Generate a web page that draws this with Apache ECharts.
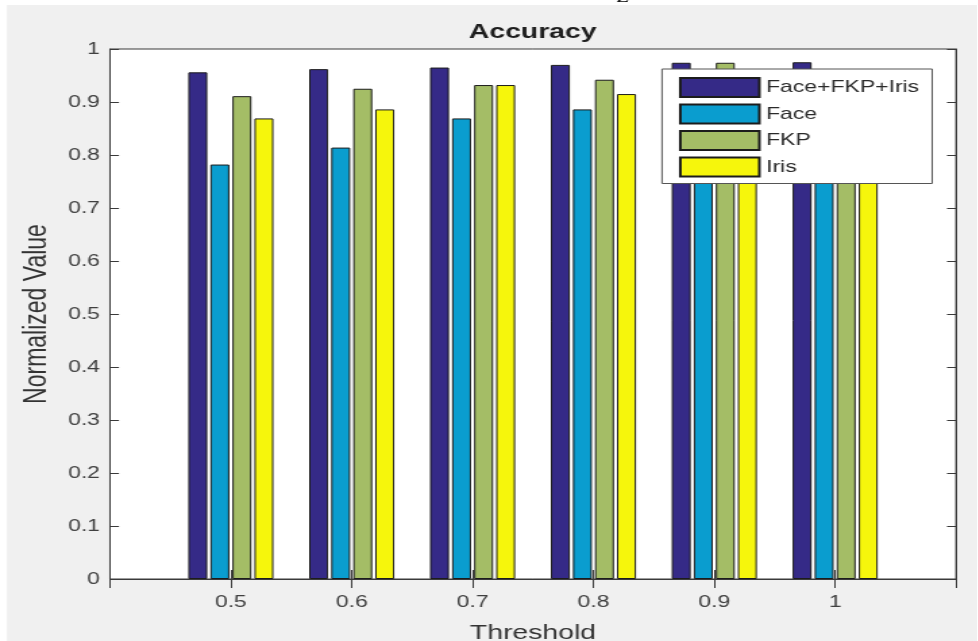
<!DOCTYPE html>
<html>
<head>
<meta charset="utf-8">
<script src="https://cdn.jsdelivr.net/npm/echarts@6/dist/echarts.min.js"></script>
<style>
  html, body { margin: 0; padding: 0; background: #ffffff; overflow: hidden; }
  #wrap { position: absolute; left: 0; top: 0; width: 978px; height: 641px; overflow: hidden; }
  #chart { position: absolute; left: 0; top: 0; height: 641px; transform-origin: 0 0; }
</style>
</head>
<body>
<div id="wrap"><div id="chart"></div></div>
<script>
// ---- data ----
const thresholds = ['0.5', '0.6', '0.7', '0.8', '0.9', '1'];
const seriesNames = ['Face+FKP+Iris', 'Face', 'FKP', 'Iris'];
const fusionValues = [0.956, 0.962, 0.965, 0.970, 0.974, 0.975];
const faceValues   = [0.782, 0.814, 0.869, 0.886, 0.905, 0.915];
const fkpValues    = [0.911, 0.925, 0.932, 0.942, 0.974, 0.950];
const irisValues   = [0.869, 0.886, 0.932, 0.915, 0.930, 0.940];
const yTicks = [0, 0.1, 0.2, 0.3, 0.4, 0.5, 0.6, 0.7, 0.8, 0.9, 1];
const colors = ['#352a87', '#0a9dcf', '#a4bd66', '#f6f60c'];

// horizontal stretch of the original picture
const SX = 1.35;
const W = 978 / SX, H = 641;
const chartEl = document.getElementById('chart');
chartEl.style.width = W + 'px';
chartEl.style.transform = 'scaleX(' + SX + ')';

// padded category axis (edges at 0.4 and 1.1, unlabeled)
const axisCats = [''].concat(thresholds, ['']);
const pad = v => [null].concat(v, [null]);
const allValues = [fusionValues, faceValues, fkpValues, irisValues];

const chart = echarts.init(chartEl, null, { renderer: 'canvas', width: W, height: H });

const axisColor = '#3a3a3a';
const labelColor = '#404040';
const font = 'Liberation Sans, Arial, Helvetica, sans-serif';

const gridLeft = 110 / SX, gridRight = 22 / SX;

const option = {
  animation: false,
  backgroundColor: '#ffffff',
  graphic: [
    { type: 'rect', z: -10, silent: true,
      shape: { x: 7 / SX, y: 5, width: W, height: H },
      style: { fill: '#f0f0f0' } },
    { type: 'text', z: 10, silent: true,
      style: { text: 'Z', x: 617 / SX, y: 6, fill: '#000',
               font: 'italic 16px "Liberation Serif", serif', verticalAlign: 'bottom' } }
  ],
  title: {
    text: 'Accuracy',
    left: gridLeft + (W - gridLeft - gridRight) / 2 - 7 / SX,
    textAlign: 'center',
    top: 17,
    textStyle: { fontFamily: font, fontSize: 21, fontWeight: 'bold', color: '#1e1e1e' }
  },
  legend: {
    show: true,
    orient: 'vertical',
    left: 662 / SX,
    top: 69,
    padding: [8, 13 / SX, 6, 17 / SX],
    itemWidth: 79 / SX,
    itemHeight: 19,
    itemGap: 5.5,
    icon: 'rect',
    selectedMode: false,
    backgroundColor: '#ffffff',
    borderColor: '#555555',
    borderWidth: 1,
    z: 20,
    textStyle: { fontFamily: font, fontSize: 17, color: '#2a2a2a', lineHeight: 19 },
    data: seriesNames
  },
  grid: { left: gridLeft, right: gridRight, top: 49, bottom: 62, show: true,
          outerBoundsMode: 'none', containLabel: false,
          borderColor: axisColor, borderWidth: 1, backgroundColor: '#ffffff', z: 0 },
  xAxis: [
    {
      type: 'category', data: axisCats, boundaryGap: false, position: 'bottom',
      name: 'Threshold', nameLocation: 'middle', nameGap: 44,
      nameTextStyle: { fontFamily: font, fontSize: 21, color: '#333' },
      axisLine: { show: true, lineStyle: { color: axisColor, width: 1 } },
      axisTick: { show: true, inside: true, length: 9, lineStyle: { color: axisColor } },
      axisLabel: { show: true, margin: 15, fontFamily: font, fontSize: 17, color: labelColor, interval: 0 },
      splitLine: { show: false }
    },
    {
      type: 'category', data: axisCats, boundaryGap: false, position: 'top',
      axisLine: { show: true, lineStyle: { color: axisColor, width: 1 } },
      axisTick: { show: true, inside: true, length: 9, lineStyle: { color: axisColor } },
      axisLabel: { show: false },
      splitLine: { show: false }
    }
  ],
  yAxis: [
    {
      type: 'value', min: 0, max: 1, interval: 0.1, position: 'left',
      name: 'Normalized Value', nameLocation: 'middle', nameGap: 41, nameRotate: 90,
      nameTextStyle: { fontFamily: font, fontSize: 23, color: '#333' },
      axisLine: { show: true, lineStyle: { color: axisColor, width: 1 } },
      axisTick: { show: true, inside: true, length: 9 / SX, lineStyle: { color: axisColor } },
      axisLabel: { show: true, margin: 10 / SX, fontFamily: font, fontSize: 17, color: labelColor,
                   formatter: v => { const t = yTicks.find(x => Math.abs(x - v) < 1e-9); return t === undefined ? '' : String(t); } },
      splitLine: { show: false }
    },
    {
      type: 'value', min: 0, max: 1, interval: 0.1, position: 'right',
      axisLine: { show: true, lineStyle: { color: axisColor, width: 1 } },
      axisTick: { show: true, inside: true, length: 9 / SX, lineStyle: { color: axisColor } },
      axisLabel: { show: false },
      splitLine: { show: false }
    }
  ],
  series: seriesNames.map((name, i) => ({
    name: name,
    type: 'bar',
    xAxisIndex: 0,
    yAxisIndex: 0,
    data: pad(allValues[i]),
    barWidth: 19 / SX,
    barGap: '16%',
    itemStyle: { color: colors[i], borderColor: '#1c1c1c', borderWidth: 1 },
    emphasis: { disabled: true },
    z: 2
  }))
};

chart.setOption(option);
</script>
</body>
</html>
